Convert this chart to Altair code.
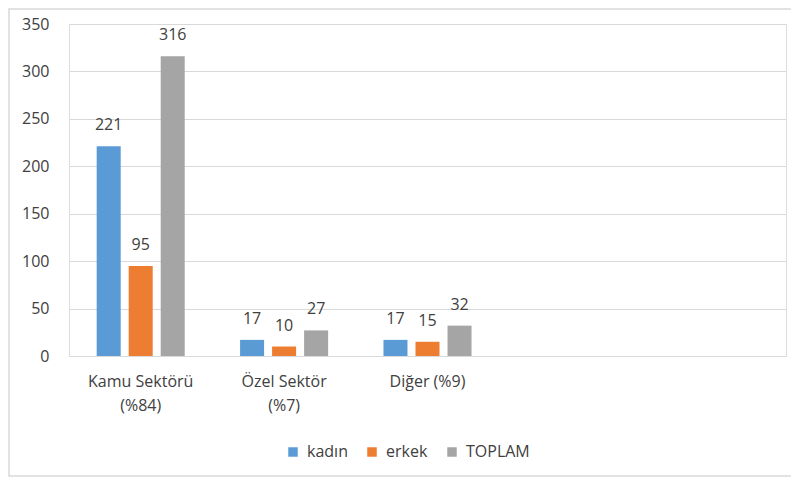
import altair as alt
import pandas as pd

categories = ["Kamu Sektörü|(%84)", "Özel Sektör|(%7)", "Diğer (%9)", "_e1", "_e2"]
series = ["kadın", "erkek", "TOPLAM"]
kadin = [221, 17, 17]
erkek = [95, 10, 15]
toplam = [316, 27, 32]
colors = ["#5B9BD5", "#ED7D31", "#A5A5A5"]

rows = []
for i, cat in enumerate(categories[:3]):
    for s, vals in zip(series, [kadin, erkek, toplam]):
        rows.append({"cat": cat, "series": s, "value": vals[i]})
df = pd.DataFrame(rows)

FONT = "Open Sans"
TXT = "#404040"
FS = 16

x = alt.X("cat:N", scale=alt.Scale(domain=categories, paddingInner=0.386, paddingOuter=0.193),
          axis=alt.Axis(title=None, labelExpr="indexof(datum.label,'_e')==0 ? '' : split(datum.label,'|')",
                        labelAngle=0, ticks=False, domainColor="#d9d9d9", labelPadding=17,
                        labelFontSize=FS, labelFont=FONT, labelColor=TXT, labelLineHeight=24,
                        labelBaseline="top"))
xo = alt.XOffset("series:N", scale=alt.Scale(domain=series, paddingInner=0.25, paddingOuter=0))
y = alt.Y("value:Q", scale=alt.Scale(domain=[0, 350]),
          axis=alt.Axis(title=None, values=list(range(0, 351, 50)), ticks=False, domain=False,
                        gridColor="#d9d9d9", labelPadding=20, labelFontSize=FS, labelFont=FONT,
                        labelColor=TXT))

bars = alt.Chart(df).mark_bar().encode(
    x=x, xOffset=xo, y=y,
    color=alt.Color("series:N", scale=alt.Scale(domain=series, range=colors),
                    legend=alt.Legend(title=None, orient="none", legendX=216, legendY=420,
                                      direction="horizontal", symbolType="square", symbolSize=90,
                                      symbolStrokeWidth=0, labelFontSize=FS, labelFont=FONT,
                                      labelColor=TXT, columnPadding=16, labelOffset=6)),
)
labels = alt.Chart(df).mark_text(dy=-21, fontSize=FS, font=FONT, color=TXT).encode(
    x=x, xOffset=xo, y=y, text="value:Q")

border = alt.Chart(pd.DataFrame({"a": [0]})).mark_rect(
    fill="transparent", stroke="#d9d9d9", strokeWidth=1.5).encode(
    x=alt.value(-60), x2=alt.value(723), y=alt.value(-15), y2=alt.value(452))

chart = alt.layer(border, bars, labels).properties(
    width=717, height=332,
    autosize=alt.AutoSizeParams(type="none"),
    padding={"left": 61, "top": 16, "right": 5, "bottom": 122},
).configure_view(stroke=None).configure(background="white")

chart.save("out.html", embed_options={"renderer": "svg", "actions": False})
